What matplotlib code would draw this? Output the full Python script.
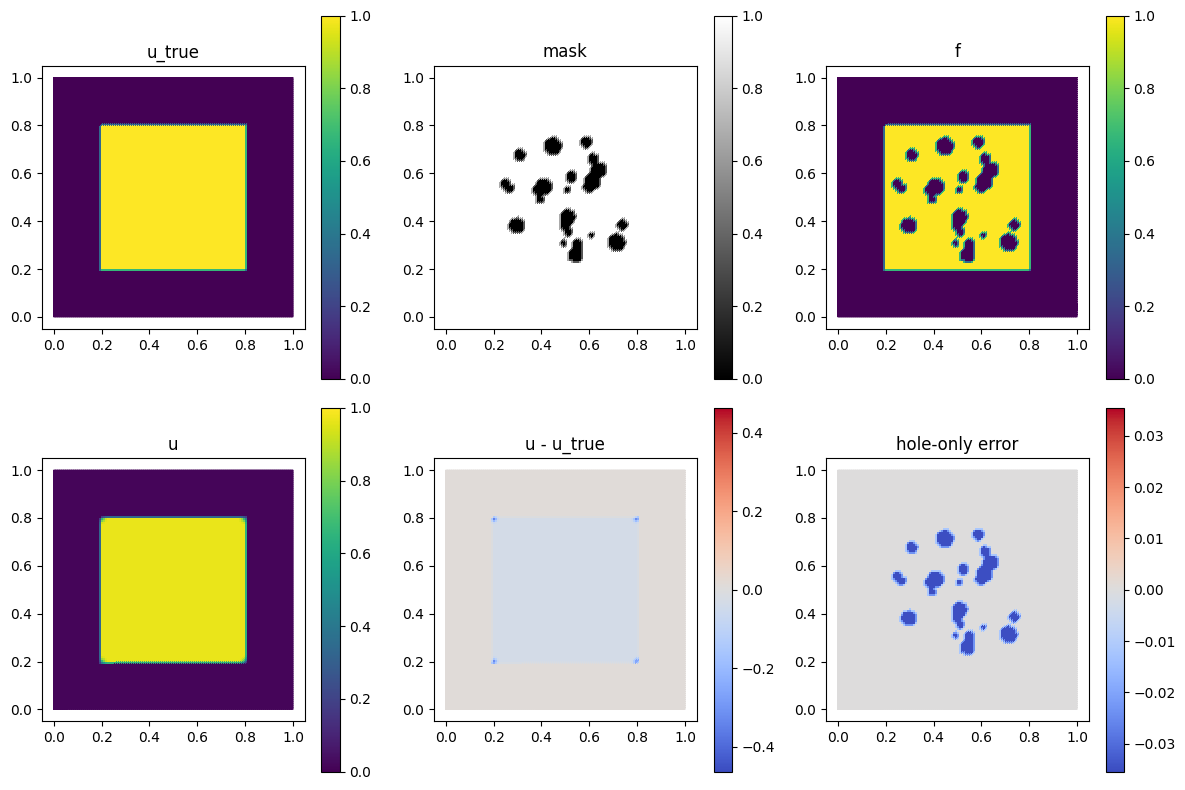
import numpy as np
import matplotlib
matplotlib.use("Agg")
import matplotlib.pyplot as plt
import matplotlib.tri as mtri

# ---- data ----
titles = ["u_true", "mask", "f", "u", "u - u_true", "hole-only error"]
square_lo, square_hi = 0.2, 0.8
hole_x = [0.448, 0.588, 0.311, 0.616, 0.640, 0.612, 0.598, 0.524, 0.507, 0.249, 0.269,
          0.409, 0.381, 0.395, 0.297, 0.510, 0.500, 0.514, 0.738, 0.609, 0.714, 0.493,
          0.549, 0.542]
hole_y = [0.714, 0.731, 0.679, 0.661, 0.616, 0.567, 0.546, 0.588, 0.532, 0.560, 0.539,
          0.546, 0.532, 0.494, 0.384, 0.419, 0.384, 0.356, 0.387, 0.343, 0.314, 0.312,
          0.304, 0.262]
hole_r = [0.038, 0.024, 0.025, 0.024, 0.034, 0.036, 0.024, 0.024, 0.015, 0.020, 0.020,
          0.036, 0.020, 0.019, 0.033, 0.033, 0.024, 0.017, 0.022, 0.012, 0.037, 0.014,
          0.023, 0.033]
u_inside = 0.965      # reconstructed value inside the square
u_outside = 0.012     # reconstructed value outside the square
corner_dip = 0.43     # extra deficit at the square corners
err_lim = 0.463       # colour limit of u - u_true
hole_lim = 0.0354     # colour limit of hole-only error
n_nodes = 121

# ---- mesh ----
g = np.linspace(0, 1, n_nodes)
X, Y = np.meshgrid(g, g)
x, y = X.ravel(), Y.ravel()
idx = np.arange(n_nodes * n_nodes).reshape(n_nodes, n_nodes)
a = idx[:-1, :-1].ravel(); b = idx[:-1, 1:].ravel()
c = idx[1:, :-1].ravel(); d = idx[1:, 1:].ravel()
tris = np.vstack([np.column_stack([a, b, d]), np.column_stack([a, d, c])])
tri = mtri.Triangulation(x, y, tris)

eps = 1e-9
inside = (x >= square_lo - eps) & (x <= square_hi + eps) & (y >= square_lo - eps) & (y <= square_hi + eps)
u_true = inside.astype(float)

mask = np.ones_like(x)
for hx, hy, hr in zip(hole_x, hole_y, hole_r):
    mask[(x - hx) ** 2 + (y - hy) ** 2 <= hr ** 2] = 0.0

f = u_true * mask

u = np.where(inside, u_inside, u_outside)
corners = [(square_lo, square_lo), (square_lo, square_hi), (square_hi, square_lo), (square_hi, square_hi)]
dc = np.min([np.hypot(x - cx, y - cy) for cx, cy in corners], axis=0)
near = inside & (dc < 0.02)
u = u - np.where(near, corner_dip * (1 - dc / 0.02), 0.0)

err = u - u_true
hole_err = err * (1 - mask)

fields = [u_true, mask, f, u, err, hole_err]
cmaps = ["viridis", "gray", "viridis", "viridis", "coolwarm", "coolwarm"]
lims = [(0, 1), (0, 1), (0, 1), (0, 1), (-err_lim, err_lim), (-hole_lim, hole_lim)]

fig, axes = plt.subplots(2, 3, figsize=(12, 8), dpi=100)
for ax, fld, title, cm, (lo, hi) in zip(axes.ravel(), fields, titles, cmaps, lims):
    ax.tripcolor(tri, fld, cmap=cm, vmin=lo, vmax=hi, shading="gouraud")
    tp = ax.tripcolor(tri, fld, cmap=cm, vmin=lo, vmax=hi, shading="flat",
                      antialiased=False, edgecolors="none")
    ax.set_title(title)
    ax.set_aspect("equal")
    fig.colorbar(tp, ax=ax)
fig.tight_layout()
fig.savefig("out.png", dpi=100, bbox_inches="tight")
